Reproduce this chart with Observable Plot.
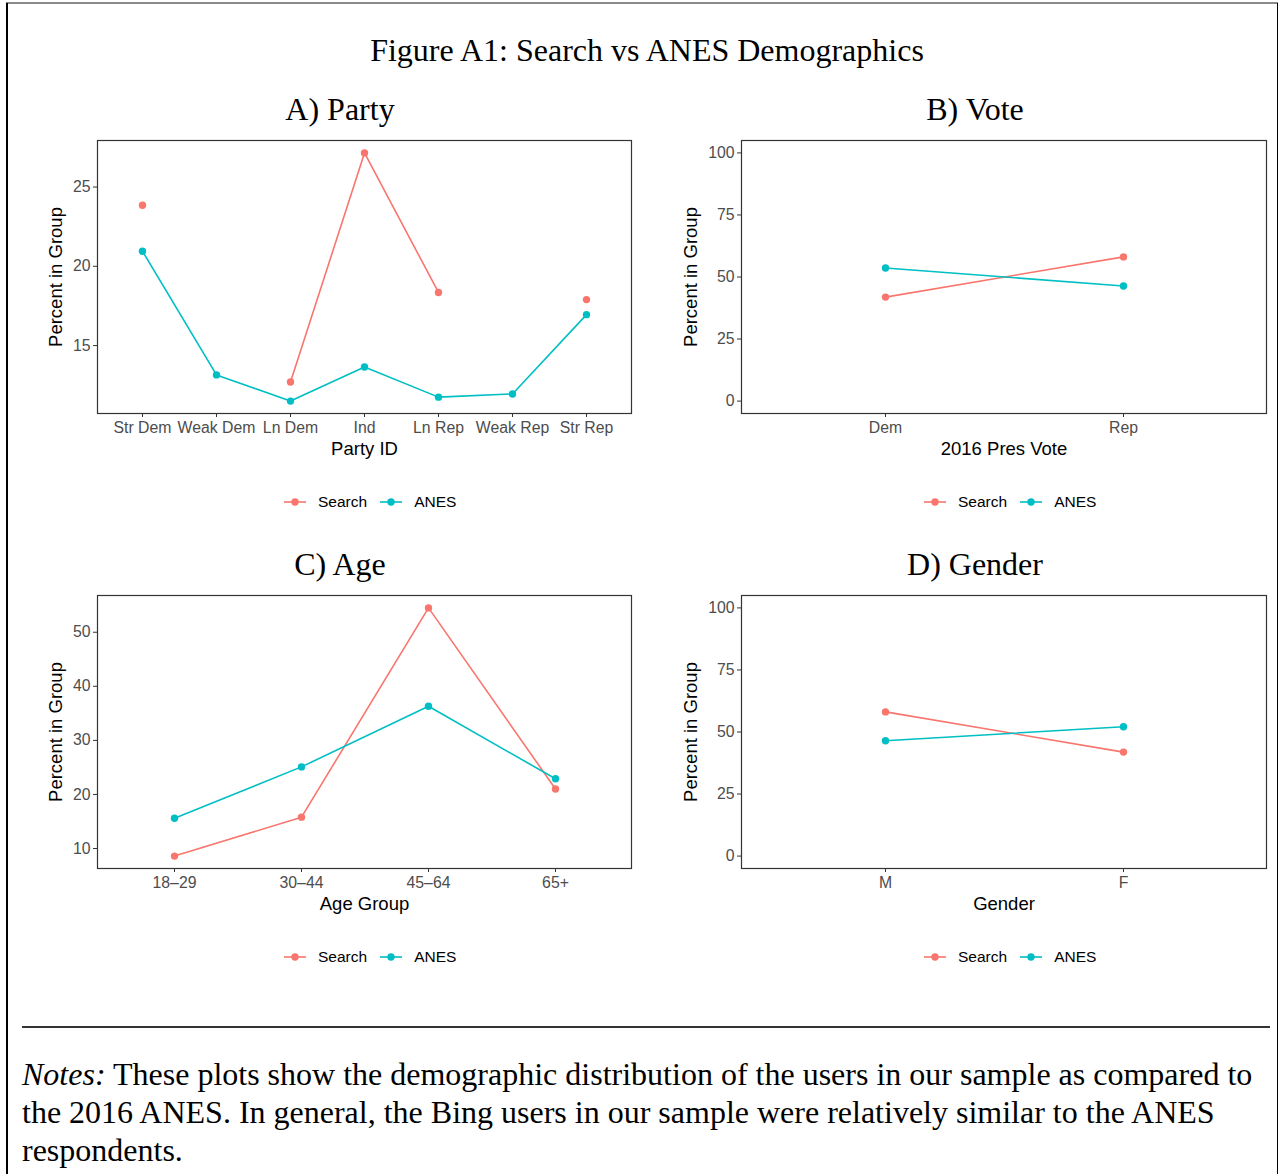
<!DOCTYPE html>
<html>
<head>
<meta charset="utf-8">
<script src="https://cdn.jsdelivr.net/npm/d3@7"></script>
<script src="https://cdn.jsdelivr.net/npm/@observablehq/plot@0.6"></script>
<style>
  html, body { margin: 0; padding: 0; background: #fff; }
  #fig { position: relative; width: 1280px; height: 1174px; background: #fff; overflow: hidden; }
  .abs { position: absolute; }
  .serif { font-family: "Liberation Serif", "Times New Roman", serif; color: #000; white-space: nowrap; }
  .sans { font-family: "Liberation Sans", Arial, Helvetica, sans-serif; }
  .title { text-align: center; width: 800px; }
  .legend { display: flex; align-items: center; height: 24px; font-size: 15.5px; color: #000; white-space: nowrap; }
  .legend svg { display: block; }
</style>
</head>
<body>
<div id="fig"></div>
<script>
// ---------- data ----------
const seriesNames = ["Search", "ANES"];
const seriesColors = ["#F8766D", "#00BFC4"];

const partyCats = ["Str Dem", "Weak Dem", "Ln Dem", "Ind", "Ln Rep", "Weak Rep", "Str Rep"];
const partySearch = [23.85, null, 12.7, 27.15, 18.35, null, 17.9];
const partyAnes = [20.95, 13.15, 11.5, 13.65, 11.75, 11.95, 16.95];

const voteCats = ["Dem", "Rep"];
const voteSearch = [41.9, 58.1];
const voteAnes = [53.6, 46.4];

const ageCats = ["18–29", "30–44", "45–64", "65+"];
const ageSearch = [8.6, 15.8, 54.5, 21.0];
const ageAnes = [15.6, 25.1, 36.3, 22.9];

const genderCats = ["M", "F"];
const genderSearch = [58.1, 41.9];
const genderAnes = [46.5, 52.1];

const partyTicks = [15, 20, 25];
const pctTicks = [0, 25, 50, 75, 100];
const ageTicks = [10, 20, 30, 40, 50];

const figTitle = "Figure A1: Search vs ANES Demographics";
const panelTitles = ["A) Party", "B) Vote", "C) Age", "D) Gender"];
const xLabels = ["Party ID", "2016 Pres Vote", "Age Group", "Gender"];
const yLabel = "Percent in Group";

// ---------- helpers ----------
const fig = document.getElementById("fig");
const SANS = '"Liberation Sans", Arial, Helvetica, sans-serif';

function expand(vals, mult = 0.05) {
  const v = vals.filter(d => d != null);
  const lo = d3.min(v), hi = d3.max(v), pad = (hi - lo) * mult;
  return [lo - pad, hi + pad];
}

function addText(txt, cx, top, size, extra = "") {
  const d = document.createElement("div");
  d.className = "abs serif title";
  d.style.left = (cx - 400) + "px";
  d.style.top = top + "px";
  d.style.fontSize = size + "px";
  d.style.lineHeight = size + "px";
  d.style.cssText += extra;
  d.textContent = txt;
  fig.appendChild(d);
}

function panel({cats, search, anes, yDomain, yTicks, xLabel, left, top, mLeft, mRight, yLabDx}) {
  const rows = cats.flatMap((c, i) => [
    {cat: c, series: seriesNames[0], v: search[i]},
    {cat: c, series: seriesNames[1], v: anes[i]}
  ]);
  const chart = Plot.plot({
    width: 640,
    height: 340,
    marginTop: 10,
    marginBottom: 57,
    marginLeft: mLeft,
    marginRight: mRight,
    style: {fontFamily: SANS, background: "transparent", overflow: "visible"},
    x: {type: "point", domain: cats, padding: 0.6, label: null},
    y: {domain: yDomain, label: null},
    color: {domain: seriesNames, range: seriesColors},
    marks: [
      Plot.axisX({tickSize: 4, tickPadding: 4, fontSize: 15.8, label: null, stroke: "#333", fill: "#4d4d4d", color: "#4d4d4d"}),
      Plot.axisY({ticks: yTicks, tickSize: 4, tickPadding: 3, fontSize: 15.8, label: null, stroke: "#333", fill: "#4d4d4d", color: "#4d4d4d"}),
      Plot.line(rows, {x: "cat", y: "v", z: "series", stroke: "series", strokeWidth: 1.6}),
      Plot.dot(rows.filter(d => d.v != null), {x: "cat", y: "v", fill: "series", r: 3.7}),
      Plot.frame({stroke: "#333", strokeWidth: 1.2}),
      Plot.text([xLabel], {frameAnchor: "bottom", dy: 36, lineAnchor: "middle", textAnchor: "middle", fontSize: 18.5, fill: "#000"}),
      Plot.text([yLabel], {frameAnchor: "left", dx: yLabDx, rotate: -90, textAnchor: "middle", lineAnchor: "middle", fontSize: 18.5, fill: "#000"})
    ]
  });
  chart.style.position = "absolute";
  chart.style.left = left + "px";
  chart.style.top = top + "px";
  fig.appendChild(chart);
}

function legend(left, top) {
  const row = document.createElement("div");
  row.className = "abs legend sans";
  row.style.left = left + "px";
  row.style.top = top + "px";
  seriesNames.forEach((name, i) => {
    const ns = "http://www.w3.org/2000/svg";
    const svg = document.createElementNS(ns, "svg");
    svg.setAttribute("width", 24);
    svg.setAttribute("height", 24);
    const ln = document.createElementNS(ns, "line");
    ln.setAttribute("x1", 1); ln.setAttribute("x2", 23);
    ln.setAttribute("y1", 12); ln.setAttribute("y2", 12);
    ln.setAttribute("stroke", seriesColors[i]); ln.setAttribute("stroke-width", 1.6);
    const c = document.createElementNS(ns, "circle");
    c.setAttribute("cx", 12); c.setAttribute("cy", 12); c.setAttribute("r", 3.7);
    c.setAttribute("fill", seriesColors[i]);
    svg.appendChild(ln); svg.appendChild(c);
    svg.style.marginRight = "11px";
    const sp = document.createElement("span");
    sp.textContent = name;
    sp.style.marginRight = i === 0 ? "12px" : "0";
    row.appendChild(svg);
    row.appendChild(sp);
  });
  fig.appendChild(row);
}

// ---------- frame lines ----------
function rule(l, t, w, h, color) {
  const d = document.createElement("div");
  d.className = "abs";
  Object.assign(d.style, {left: l + "px", top: t + "px", width: w + "px", height: h + "px", background: color});
  fig.appendChild(d);
}
rule(6, 2, 1272, 2, "#8a8a8a");
rule(6, 3, 1.5, 1171, "#000");
rule(1276.5, 3, 1.5, 1171, "#000");
rule(22, 1026, 1248, 1.5, "#333");

// ---------- titles ----------
addText(figTitle, 647, 34, 32);
addText(panelTitles[0], 340, 93, 32);
addText(panelTitles[1], 975, 93, 32);
addText(panelTitles[2], 340, 548, 32);
addText(panelTitles[3], 975, 548, 32);

// ---------- panels ----------
panel({cats: partyCats, search: partySearch, anes: partyAnes, yDomain: expand(partySearch.concat(partyAnes)),
       yTicks: partyTicks, xLabel: xLabels[0], left: 0, top: 130, mLeft: 97, mRight: 9, yLabDx: -41});
panel({cats: voteCats, search: voteSearch, anes: voteAnes, yDomain: expand([0, 100]),
       yTicks: pctTicks, xLabel: xLabels[1], left: 640, top: 130, mLeft: 101, mRight: 14, yLabDx: -50});
panel({cats: ageCats, search: ageSearch, anes: ageAnes, yDomain: expand(ageSearch.concat(ageAnes)),
       yTicks: ageTicks, xLabel: xLabels[2], left: 0, top: 585, mLeft: 97, mRight: 9, yLabDx: -41});
panel({cats: genderCats, search: genderSearch, anes: genderAnes, yDomain: expand([0, 100]),
       yTicks: pctTicks, xLabel: xLabels[3], left: 640, top: 585, mLeft: 101, mRight: 14, yLabDx: -50});

// ---------- legends ----------
legend(283, 490);
legend(923, 490);
legend(283, 945);
legend(923, 945);

// ---------- notes ----------
const notes = document.createElement("div");
notes.className = "abs serif";
Object.assign(notes.style, {left: "22px", top: "1055px", fontSize: "32px", lineHeight: "38px"});
notes.innerHTML = "<i>Notes:</i> These plots show the demographic distribution of the users in our sample as compared to<br>" +
  "the 2016 ANES. In general, the Bing users in our sample were relatively similar to the ANES<br>" +
  "respondents.";
fig.appendChild(notes);
</script>
</body>
</html>
